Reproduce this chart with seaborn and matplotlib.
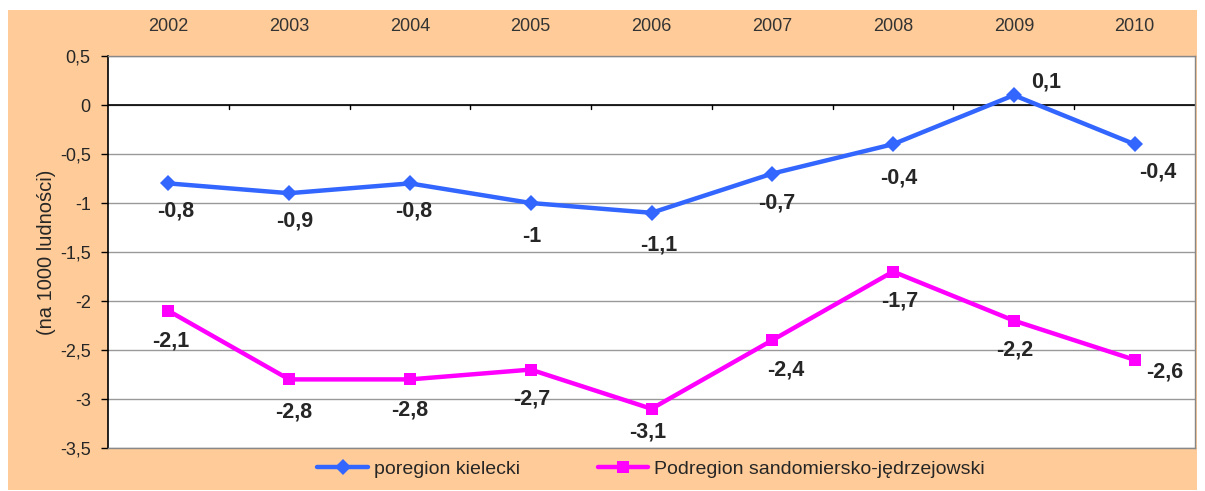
import numpy as np
import pandas as pd
import seaborn as sns
import matplotlib.pyplot as plt
from matplotlib.patches import Rectangle

years = ['2002', '2003', '2004', '2005', '2006', '2007', '2008', '2009', '2010']
kielecki = [-0.8, -0.9, -0.8, -1.0, -1.1, -0.7, -0.4, 0.1, -0.4]
sandom = [-2.1, -2.8, -2.8, -2.7, -3.1, -2.4, -1.7, -2.2, -2.6]
name_k = 'poregion kielecki'
name_s = 'Podregion sandomiersko-jędrzejowski'

# label offsets (in points) relative to the marker
off_k = [(5, -20), (4, -20), (3, -20), (1, -24), (5, -23), (3, -21), (4, -24), (23, 9.5), (17, -20)]
off_s = [(1.5, -21.5), (3, -23.5), (0, -22), (1, -21), (-3, -17), (10, -21.5), (5, -21.5), (1, -21.5), (21.5, -8.5)]

sns.set_style('white')
plt.rcParams['font.family'] = ['Liberation Sans', 'DejaVu Sans']

fig = plt.figure(figsize=(12.05, 4.91), dpi=100)
fig.patch.set_facecolor('white')
fig.patches.append(Rectangle((8 / 1205, 1 / 491), 1189 / 1205, 480 / 491,
                             transform=fig.transFigure, facecolor='#FFCC99',
                             edgecolor='none', zorder=-10))
ax = fig.add_axes([108 / 1205, 43 / 491, 1087 / 1205, 392 / 491])
ax.set_facecolor('white')

x = np.arange(len(years))
df = pd.DataFrame({'x': np.concatenate([x, x]),
                   'v': kielecki + sandom,
                   's': [name_k] * len(x) + [name_s] * len(x)})

sns.lineplot(data=df, x='x', y='v', hue='s', style='s',
             palette={name_k: '#3366FF', name_s: '#FF00FF'},
             markers={name_k: 'D', name_s: 's'}, dashes=False,
             markersize=8.5, linewidth=3.2, markeredgewidth=0, ax=ax, zorder=3)

for xi, v, o in zip(x, kielecki, off_k):
    ax.annotate(f'{v:g}'.replace('.', ','), (xi, v), xytext=o, textcoords='offset points',
                ha='center', va='center', fontsize=15.5, fontweight='bold')
for xi, v, o in zip(x, sandom, off_s):
    ax.annotate(f'{v:g}'.replace('.', ','), (xi, v), xytext=o, textcoords='offset points',
                ha='center', va='center', fontsize=15.5, fontweight='bold')

ax.set_xlim(-0.5, 8.5)
ax.set_ylim(-3.5, 0.5)
yt = np.arange(-3.5, 0.51, 0.5)
ax.set_yticks(yt)
ax.set_yticklabels([f'{t:g}'.replace('.', ',') for t in yt], fontsize=13)
ax.yaxis.grid(True, color='#999999', linewidth=1)
ax.tick_params(axis='y', left=True, length=5, width=1, color='black', pad=7.5)
ax.set_ylabel('(na 1000 ludności)', fontsize=14.5, labelpad=3)
ax.set_xlabel('')

# category labels on top, zero-line axis with boundary ticks
ax.set_xticks(x)
ax.set_xticklabels(years, fontsize=13, color='#333333')
ax.xaxis.tick_top()
ax.tick_params(axis='x', top=False, bottom=False, length=0, pad=15)
ax.axhline(0, color='black', linewidth=1.2, zorder=2)
for b in np.arange(0.5, 8.5, 1):
    ax.plot([b, b], [0, -0.04], color='black', linewidth=1, zorder=2)

for side in ['top', 'right', 'bottom']:
    ax.spines[side].set_color('#888888')
    ax.spines[side].set_linewidth(1)
ax.spines['left'].set_color('black')
ax.spines['left'].set_linewidth(1.2)

ax.legend(loc='center', bbox_to_anchor=(0.4995, -0.053), ncol=2, frameon=False,
          fontsize=14, handlelength=2.6, handletextpad=0.3, columnspacing=4,
          borderpad=0, title=None)

fig.savefig('out.png', dpi=100, facecolor=fig.get_facecolor())
